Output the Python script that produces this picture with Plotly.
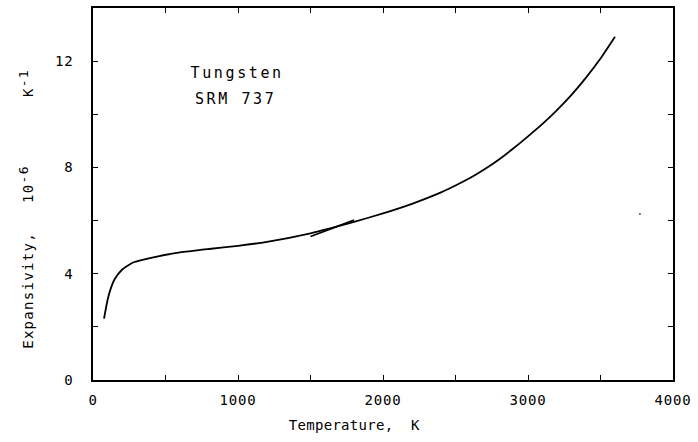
import plotly.graph_objects as go

# Main expansivity curve (T in K, alpha in 1e-6/K)
temp_main = [76, 100, 120, 150, 200, 280, 400, 600, 800, 1000, 1200, 1500,
             1800, 2000, 2200, 2400, 2500, 2600, 2700, 2800, 2900, 3000,
             3100, 3200, 3300, 3400, 3500, 3600]
alpha_main = [2.31, 3.0, 3.4, 3.8, 4.15, 4.43, 4.6, 4.8, 4.93, 5.05, 5.2, 5.52,
              5.95, 6.27, 6.63, 7.06, 7.32, 7.6, 7.93, 8.3, 8.72, 9.17,
              9.64, 10.16, 10.73, 11.38, 12.1, 12.92]

# Short overlapping segment
temp_seg = [1500, 1800]
alpha_seg = [5.4, 6.02]

# Stray point
temp_dot = [3772]
alpha_dot = [6.25]

x_ticks = [0, 1000, 2000, 3000, 4000]
x_ticktext = ["0", "1000", "2000", "3000", "4000"]
y_ticks = [0, 4, 8, 12]
y_ticktext = ["0", "4", "8", "12"]

FONT = "DejaVu Sans Mono"

fig = go.Figure()
fig.add_trace(go.Scatter(x=temp_main, y=alpha_main, mode="lines",
                         line=dict(color="black", width=1.8, shape="spline", smoothing=0.5),
                         hoverinfo="skip", showlegend=False))
fig.add_trace(go.Scatter(x=temp_seg, y=alpha_seg, mode="lines",
                         line=dict(color="black", width=1.8),
                         hoverinfo="skip", showlegend=False))
fig.add_trace(go.Scatter(x=temp_dot, y=alpha_dot, mode="markers",
                         marker=dict(color="#555", size=2),
                         hoverinfo="skip", showlegend=False))

axis_common = dict(showgrid=False, zeroline=False, showline=True, linecolor="black",
                   linewidth=1.5, ticks="inside", ticklen=5, tickwidth=1.2,
                   tickcolor="black", mirror="allticks",
                   tickfont=dict(family=FONT, size=14, color="black"))

fig.update_layout(
    width=698, height=442,
    margin=dict(l=93, r=25, t=6, b=62),
    paper_bgcolor="white", plot_bgcolor="white",
    xaxis=dict(range=[0, 4000], tickvals=x_ticks, ticktext=x_ticktext,
               ticklabelstandoff=6,
               minor=dict(tickvals=[500, 1500, 2500, 3500], ticks="inside", ticklen=5,
                          tickwidth=1.2, tickcolor="black", showgrid=False),
               **axis_common),
    yaxis=dict(range=[0, 14], tickvals=y_ticks, ticktext=y_ticktext,
               ticklabelstandoff=15,
               minor=dict(tickvals=[2, 6, 10], ticks="inside", ticklen=5,
                          tickwidth=1.2, tickcolor="black", showgrid=False),
               **axis_common),
    annotations=[
        dict(text="Temperature,  K", xref="paper", yref="paper", x=0.45, y=-0.12,
             showarrow=False, xanchor="center", yanchor="middle",
             font=dict(family=FONT, size=14, color="black")),
        dict(text=("Expansivity,   10<sup><span style=\"font-size:13px\">-6</span></sup>"
                   "       K<sup><span style=\"font-size:13px\">-1</span></sup>"),
             xref="paper", yref="paper",
             x=-0.115, y=0.4605, textangle=-90, showarrow=False,
             xanchor="center", yanchor="middle",
             font=dict(family=FONT, size=14, color="black")),
        dict(text="Tungsten", xref="paper", yref="paper", x=0.248, y=0.825,
             showarrow=False, xanchor="center", yanchor="middle",
             font=dict(family=FONT, size=15, color="black")),
        dict(text="SRM 737", xref="paper", yref="paper", x=0.2457, y=0.755,
             showarrow=False, xanchor="center", yanchor="middle",
             font=dict(family=FONT, size=15, color="black")),
    ],
)

post = """
var gd = document.getElementById('{plot_id}');
gd.querySelectorAll('.xtick text, .ytick text').forEach(function(t){t.style.letterSpacing='0.8px';});
gd.querySelectorAll('.annotation-text').forEach(function(t){
  var s = t.textContent;
  if (s.indexOf('Tungsten')>=0 || s.indexOf('SRM')>=0) { t.style.letterSpacing='2.6px'; }
  else if (s.indexOf('Temperature')>=0) { t.style.letterSpacing='0.3px'; }
  else { t.style.letterSpacing='1.3px'; }
});
"""

fig.write_html("out.html", post_script=post)
